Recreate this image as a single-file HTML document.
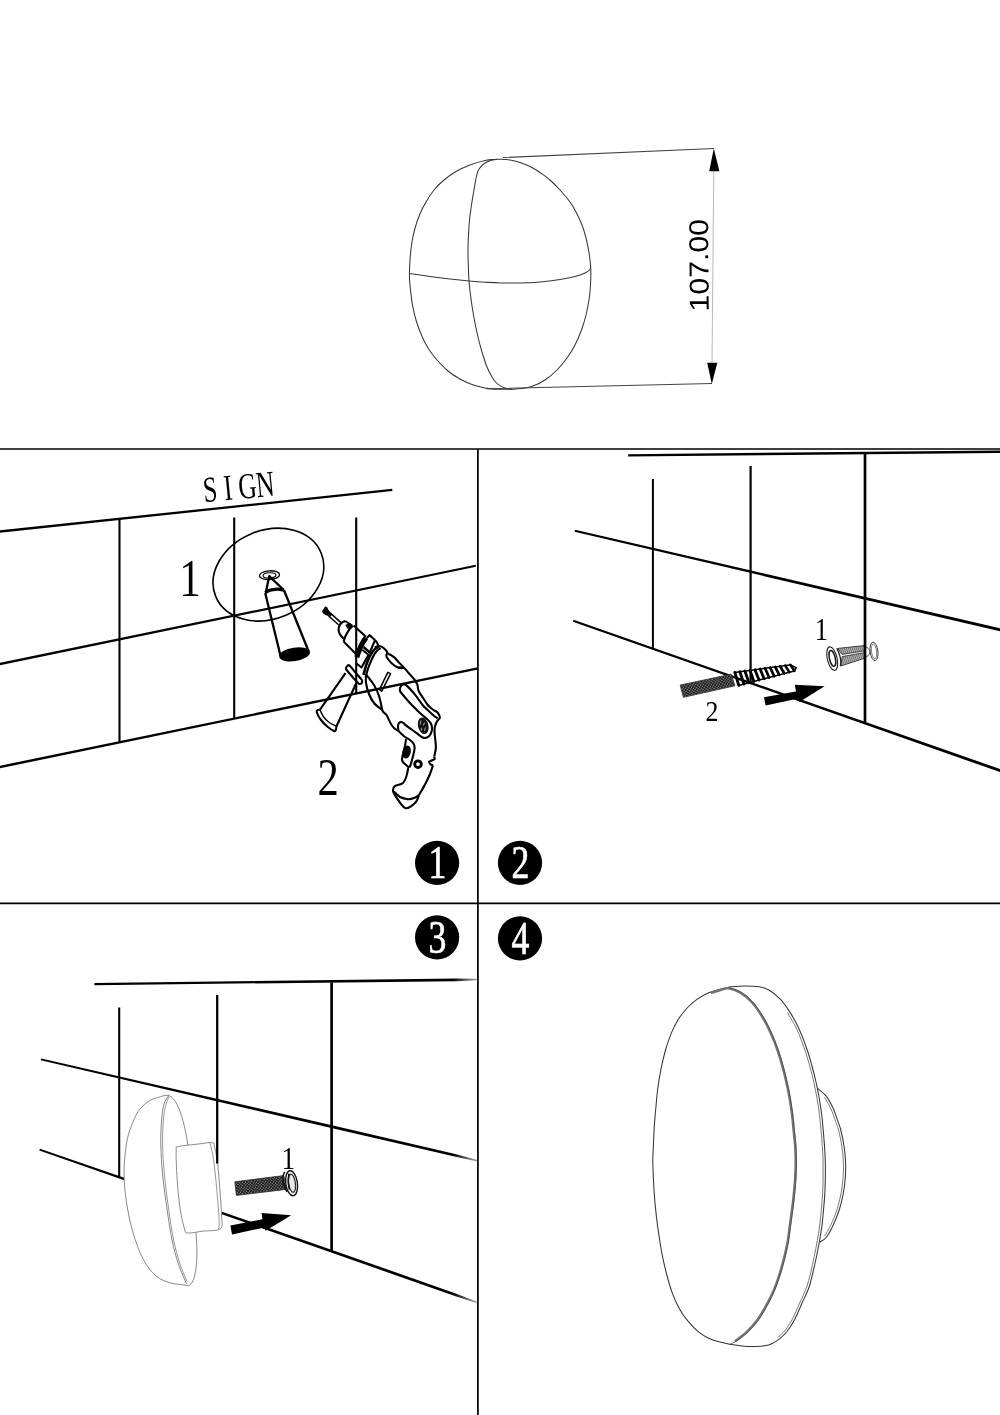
<!DOCTYPE html>
<html lang="en">
<head>
<meta charset="utf-8">
<title>Installation instructions</title>
<style>
html,body{margin:0;padding:0;background:#fff;}
body{width:1000px;height:1415px;overflow:hidden;font-family:"Liberation Sans",sans-serif;}
svg{display:block;will-change:transform;}
.k{fill:none;stroke:#000;stroke-linecap:butt;stroke-linejoin:round;}
.s{font-family:"Liberation Serif",serif;fill:#000;}
.a{font-family:"Liberation Sans",sans-serif;fill:#000;}
</style>
</head>
<body>
<svg width="1000" height="1415" viewBox="0 0 1000 1415">
<rect width="1000" height="1415" fill="#fff"/>
<g id="dimension" class="k" stroke-width="1.05" style="stroke:#363636">
<path d="M500.0 159.3C502.5 159.4 506.7 159.5 510.0 160.0C513.3 160.5 516.7 161.4 520.0 162.5C523.3 163.6 526.7 164.8 530.0 166.5C533.3 168.2 536.7 170.2 540.0 172.5C543.3 174.8 546.7 177.1 550.0 180.0C553.3 182.9 556.7 186.3 560.0 190.0C563.3 193.7 567.3 198.3 570.0 202.0C572.7 205.7 574.0 208.2 576.0 212.0C578.0 215.8 580.3 220.7 582.0 225.0C583.7 229.3 584.9 233.8 586.0 238.0C587.1 242.2 587.8 246.3 588.5 250.0C589.2 253.7 589.6 256.7 590.0 260.0C590.4 263.3 590.7 265.8 590.8 270.0C590.9 274.2 590.8 280.0 590.5 285.0C590.2 290.0 589.8 295.0 589.0 300.0C588.2 305.0 587.2 310.0 586.0 315.0C584.8 320.0 583.3 325.0 581.5 330.0C579.7 335.0 577.4 340.3 575.0 345.0C572.6 349.7 570.0 353.8 567.0 358.0C564.0 362.2 560.7 366.3 557.0 370.0C553.3 373.7 549.0 377.3 545.0 380.0C541.0 382.7 536.8 384.6 533.0 386.0C529.2 387.4 525.5 388.1 522.0 388.6C518.5 389.1 515.7 389.1 512.0 389.2C508.3 389.3 502.8 389.3 500.0 389.3C497.2 389.3 497.5 389.4 495.0 389.2C492.5 389.0 488.8 388.8 485.0 388.0C481.2 387.2 476.2 386.0 472.0 384.5C467.8 383.0 464.0 381.2 460.0 379.0C456.0 376.8 451.8 374.2 448.0 371.0C444.2 367.8 440.3 363.8 437.0 360.0C433.7 356.2 430.7 352.3 428.0 348.0C425.3 343.7 423.0 338.7 421.0 334.0C419.0 329.3 417.4 324.8 416.0 320.0C414.6 315.2 413.4 310.0 412.5 305.0C411.6 300.0 411.0 294.2 410.5 290.0C410.0 285.8 409.8 283.3 409.6 280.0C409.4 276.7 409.4 273.3 409.5 270.0C409.6 266.7 409.7 264.2 410.0 260.0C410.3 255.8 410.8 250.0 411.5 245.0C412.2 240.0 413.2 235.0 414.5 230.0C415.8 225.0 417.6 219.7 419.5 215.0C421.4 210.3 423.6 206.2 426.0 202.0C428.4 197.8 431.0 193.7 434.0 190.0C437.0 186.3 440.3 183.1 444.0 180.0C447.7 176.9 451.7 174.0 456.0 171.5C460.3 169.0 465.2 166.8 470.0 165.0C474.8 163.2 480.8 161.4 485.0 160.5C489.2 159.6 492.5 159.7 495.0 159.5C497.5 159.3 497.5 159.2 500.0 159.3Z"/>
<path d="M497.0 159.4C496.2 159.5 494.0 159.3 492.0 159.9C490.0 160.5 487.2 161.5 485.0 163.0C482.8 164.5 480.4 166.8 479.0 169.0C477.6 171.2 477.3 172.5 476.5 176.0C475.7 179.5 474.8 185.2 474.0 190.0C473.2 194.8 472.2 200.0 471.5 205.0C470.8 210.0 470.0 215.0 469.5 220.0C469.0 225.0 468.8 230.0 468.5 235.0C468.2 240.0 468.0 245.0 468.0 250.0C468.0 255.0 468.1 259.8 468.3 265.0C468.5 270.2 468.6 276.0 469.0 281.0C469.4 286.0 469.8 289.3 470.5 295.0C471.2 300.7 472.3 308.3 473.5 315.0C474.7 321.7 476.1 328.8 477.5 335.0C478.9 341.2 480.4 346.7 482.0 352.0C483.6 357.3 485.3 362.8 487.0 367.0C488.7 371.2 490.5 374.4 492.0 377.0C493.5 379.6 494.7 381.1 496.0 382.5C497.3 383.9 498.5 384.7 500.0 385.6C501.5 386.5 503.0 387.4 505.0 388.0C507.0 388.6 510.8 389.0 512.0 389.2"/>
<path d="M409.5 273.5C412.9 274.0 423.2 275.6 430.0 276.5C436.8 277.4 443.5 278.2 450.0 279.0C456.5 279.8 463.2 280.5 469.0 281.0C474.8 281.5 479.8 281.9 485.0 282.2C490.2 282.5 494.2 282.8 500.0 282.9C505.8 283.0 513.3 283.1 520.0 283.0C526.7 282.9 533.3 282.6 540.0 282.0C546.7 281.4 554.2 280.4 560.0 279.5C565.8 278.6 570.8 277.6 575.0 276.5C579.2 275.4 582.6 274.1 585.0 273.0C587.4 271.9 588.6 270.9 589.5 270.0C590.4 269.1 590.4 267.9 590.6 267.5"/>
<path d="M503 157.6L714 148.5M486 388.7L712 383.6" style="stroke:#444"/>
<path d="M713.8 170L712 364" style="stroke:#999" stroke-width="0.7"/>
</g>
<path d="M713.8 148.6L709.2 171.2L719.4 171.2Z" fill="#000"/>
<path d="M711.8 384L707.2 362.8L717.3 362.8Z" fill="#000"/>
<text class="a" font-size="27.4" transform="translate(708.8 311.4) rotate(-90.5) scale(1.105 1)" x="0" y="0">107.00</text>
<g id="frame" class="k" stroke-width="1.7">
<path d="M0 449H1000M0 903.4H1000M477.9 449V1415"/>
</g>
<circle cx="437.1" cy="862.9" r="22.1" fill="#000"/>
<text class="s" style="fill:#fff;stroke:#fff;stroke-width:0.7px" font-size="46.4" text-anchor="middle" transform="translate(437.4 878.1) scale(0.77 1)" x="0" y="0">1</text>
<circle cx="520.0" cy="862.9" r="22.1" fill="#000"/>
<text class="s" style="fill:#fff;stroke:#fff;stroke-width:0.7px" font-size="46.4" text-anchor="middle" transform="translate(520.3 878.1) scale(0.77 1)" x="0" y="0">2</text>
<circle cx="437.1" cy="937.3" r="22.1" fill="#000"/>
<text class="s" style="fill:#fff;stroke:#fff;stroke-width:0.7px" font-size="46.4" text-anchor="middle" transform="translate(437.4 952.5) scale(0.77 1)" x="0" y="0">3</text>
<circle cx="520.0" cy="938.4" r="22.1" fill="#000"/>
<text class="s" style="fill:#fff;stroke:#fff;stroke-width:0.7px" font-size="46.4" text-anchor="middle" transform="translate(520.3 953.6) scale(0.77 1)" x="0" y="0">4</text>
<g id="step1" class="k" stroke-width="2.4">
<path d="M-0.87 532.84L392.41 490.94L392.19 488.86L-1.13 530.36Z" fill="#000" stroke="none"/>
<path d="M-0.75 665.52L476.01 566.83L475.59 564.77L-1.25 663.08Z" fill="#000" stroke="none"/>
<path d="M-0.75 768.42L478.22 669.38L477.78 667.22L-1.25 765.98Z" fill="#000" stroke="none"/>
<path d="M119.5 519V742.6M234.2 517.5V718.8M356.2 517.5V693.8" stroke-width="2.1"/>
<ellipse cx="268.4" cy="574.6" rx="57" ry="44.3" transform="rotate(-22.4 268.4 574.6)" stroke-width="1.6"/>
</g>
<text class="s" font-size="36.6" transform="translate(202 502.6) rotate(-5.6) scale(0.69 1)" x="3.4 33.4 54.6 80.4" y="0">SIGN</text>
<text class="s" font-size="53.2" transform="translate(179.3 596.3) scale(0.81 1)" x="0" y="0">1</text>
<text class="s" font-size="52" transform="translate(317.6 795.4) scale(0.82 1)" x="0" y="0">2</text>
<g id="marker" class="k" stroke-width="2.3">
<ellipse cx="269.5" cy="575.2" rx="10" ry="4.4" transform="rotate(-3 269.5 575.2)" stroke-width="1.3"/>
<ellipse cx="269.5" cy="575.4" rx="6.4" ry="2.6" transform="rotate(-3 269.5 575.4)" stroke-width="1.1"/>
<path d="M269.5 574.8L268.0 578.5L272.5 579.0Z" fill="#000" stroke="none"/>
<path d="M265.8 592.5L269.2 576.2L283.8 590.0"/>
<path d="M265.2 592.8C265.8 592.4 267.4 591.1 269.0 590.5C270.6 589.9 273.2 589.5 275.0 589.3C276.8 589.1 278.5 589.1 280.0 589.3C281.5 589.4 283.3 590.1 284.0 590.2" stroke-width="3.2"/>
<path d="M265.2 593.0L280.5 655.8"/>
<path d="M284.0 590.2L308.6 651.2"/>
<ellipse cx="294.6" cy="654.3" rx="14.4" ry="5.6" transform="rotate(-9 294.6 654.3)" fill="#000"/>
</g>
<g id="drill" class="k" stroke-width="2.1" stroke-linecap="round">
<path d="M322.0 611.2L325.2 606.2L327.4 607.6L329.2 612.0L326.4 615.6L323.2 613.6Z" fill="#000" stroke="none"/>
<path d="M324.8 610.2L339.9 623.8" stroke-width="4.8" stroke-linecap="butt"/>
<path d="M331.0 615.8L339.6 623.6" stroke-width="1.7" style="stroke:#fff" stroke-linecap="butt"/>
<path d="M345.2 621.0C344.6 621.3 342.4 621.9 341.4 623.0C340.3 624.1 339.2 626.1 338.8 627.6C338.4 629.1 338.6 630.7 339.0 632.0C339.3 633.3 340.0 634.5 340.8 635.6C341.6 636.7 343.1 638.1 343.6 638.6"/>
<path d="M345.2 621.0L352.4 625.8"/>
<path d="M352.4 625.8C351.7 626.6 349.6 629.0 348.4 630.8C347.2 632.6 346.0 635.0 345.2 636.8C344.4 638.6 343.9 640.8 343.6 641.6"/>
<path d="M346.6 625.4L350.0 624.2L351.6 627.0L348.6 628.5Z" fill="#000"/>
<path d="M353.6 625.4L366.0 636.8"/>
<path d="M343.6 641.6L357.2 655.2"/>
<path d="M366.0 637.8C365.5 638.5 364.0 640.4 363.1 642.0C362.2 643.6 361.2 645.6 360.4 647.5C359.6 649.4 358.7 651.6 358.1 653.2C357.5 654.9 357.0 656.6 356.8 657.2" stroke-width="5.2" stroke-linecap="butt"/>
<path d="M366.8 638.1L369.5 635.1L375.0 640.0"/>
<path d="M375.0 640.0C375.4 640.5 376.7 641.9 377.2 643.0C377.8 644.1 378.3 645.9 378.5 646.5"/>
<path d="M375.0 640.2L370.0 652.0"/>
<path d="M363.5 647.0L370.5 653.2" stroke-width="2.4"/>
<path d="M362.5 650.0L368.5 654.8L361.5 667.5L356.5 663.5"/>
<path d="M378.5 646.6C377.7 647.2 375.0 648.8 373.5 650.5C372.0 652.2 370.7 654.6 369.5 657.0C368.3 659.4 367.2 662.0 366.2 665.0C365.2 668.0 364.0 673.3 363.5 675.0" stroke-width="2.6"/>
<path d="M380.5 648.0C379.7 648.8 377.0 650.5 375.5 652.5C374.0 654.5 372.7 657.4 371.5 660.0C370.3 662.6 369.1 665.5 368.2 668.0C367.4 670.5 366.6 673.8 366.2 675.0"/>
<path d="M347.2 666.2C347.8 665.6 348.2 664.5 349.5 665.5C350.8 666.5 353.0 669.7 355.0 672.0C357.0 674.3 360.3 677.8 361.5 679.5C362.7 681.2 362.3 681.8 362.0 682.5C361.7 683.2 360.5 684.1 359.7 684.0C358.9 683.9 358.6 683.7 357.0 682.0C355.4 680.3 351.8 676.2 350.0 674.0C348.2 671.8 346.5 670.3 346.0 669.0C345.5 667.7 346.6 666.8 347.2 666.2Z"/>
<path d="M345.5 673.2L320.0 709.7"/>
<path d="M356.2 683.2L336.5 726.2"/>
<path d="M320.0 709.7C319.6 709.8 318.3 709.6 317.8 710.0C317.3 710.4 316.3 710.5 316.8 712.2C317.3 713.9 319.2 717.6 321.0 720.0C322.8 722.4 325.3 725.0 327.5 726.8C329.7 728.6 332.6 730.5 334.0 731.0C335.4 731.5 335.4 730.8 335.8 730.0C336.2 729.2 336.4 726.8 336.5 726.2"/>
<path d="M320.0 710.0C320.7 711.2 322.3 715.3 324.0 717.5C325.7 719.7 327.9 721.5 330.0 723.0C332.1 724.5 335.4 725.7 336.5 726.2" stroke-width="1.4"/>
<path d="M366.0 674.5C366.0 675.9 365.5 679.8 366.0 683.0C366.5 686.2 367.7 690.7 369.0 694.0C370.3 697.3 371.8 700.3 374.0 703.0C376.2 705.7 380.8 708.8 382.2 710.0"/>
<path d="M366.0 674.5C367.3 676.2 371.8 681.4 374.0 685.0C376.2 688.6 377.6 691.8 379.0 696.0C380.4 700.2 381.7 707.7 382.2 710.0"/>
<path d="M387.8 672.4L390.6 673.6L381.8 691.2L379.4 689.6Z" stroke-width="1.5"/>
<path d="M374.8 647.6C375.3 647.3 376.8 646.1 378.0 646.0C379.2 645.9 380.7 646.1 382.0 646.8C383.3 647.5 385.0 649.2 386.0 650.4C387.0 651.6 387.7 653.4 388.0 654.0"/>
<path d="M388.0 653.8C389.3 654.2 392.2 655.8 394.0 657.2C395.8 658.6 397.2 660.7 398.8 662.4C400.4 664.1 403.7 666.7 403.6 667.6C403.5 668.5 400.0 668.3 398.0 667.6C396.0 666.9 393.5 664.9 391.6 663.2C389.7 661.5 387.7 658.6 386.8 657.2C385.9 655.8 386.2 655.4 386.4 654.8C386.6 654.2 386.7 653.4 388.0 653.8Z"/>
<path d="M398.0 667.6C398.9 667.6 401.9 666.7 403.6 667.6C405.3 668.5 406.5 670.7 408.4 672.8C410.3 674.9 413.3 678.0 414.8 680.0C416.3 682.0 416.7 682.9 417.4 684.8C418.0 686.7 417.6 688.7 418.8 691.2C420.0 693.7 422.9 697.7 424.4 700.0C425.9 702.3 426.8 703.7 427.8 705.0C428.8 706.3 429.6 706.9 430.6 707.8C431.6 708.7 432.7 709.5 433.8 710.2C434.9 710.9 436.1 711.1 437.0 711.8C437.9 712.5 438.5 713.6 439.0 714.6C439.5 715.6 439.9 716.9 439.8 717.8C439.7 718.7 438.8 718.9 438.2 719.8C437.6 720.7 436.8 721.7 436.2 723.0C435.6 724.3 435.1 725.7 434.8 727.4C434.5 729.1 434.5 731.1 434.6 733.0C434.7 734.9 435.0 737.0 435.2 739.0C435.4 741.0 435.7 743.2 435.8 745.0C435.9 746.8 435.9 748.1 435.6 750.0C435.3 751.9 434.4 755.4 434.2 756.5"/>
<path d="M400.2 687.0C400.6 686.6 401.8 684.9 402.8 684.6C403.8 684.3 404.4 683.8 406.4 685.4C408.4 687.0 412.1 691.1 414.8 694.4C417.5 697.7 420.5 702.4 422.6 705.0C424.7 707.6 425.7 708.1 427.4 709.8C429.1 711.5 431.3 713.6 433.0 715.0C434.7 716.4 436.8 717.8 437.6 718.4"/>
<path d="M400.2 687.0C400.2 687.7 399.5 689.7 400.0 691.0C400.5 692.3 401.7 693.4 403.0 695.0C404.3 696.6 406.1 698.7 407.6 700.4C409.1 702.1 410.2 703.4 411.8 705.0C413.4 706.6 415.3 708.5 417.0 710.2C418.7 711.9 420.5 713.5 422.2 715.0C423.9 716.5 426.0 718.1 427.4 719.4C428.8 720.7 429.8 721.7 430.6 723.0C431.4 724.3 431.9 725.9 432.0 727.4C432.1 728.9 431.9 730.7 431.4 732.2C430.9 733.7 430.1 735.2 429.0 736.2C427.9 737.2 426.2 737.9 425.0 738.0C423.8 738.1 423.1 737.8 421.8 737.0C420.5 736.2 418.8 734.7 417.0 733.4C415.2 732.1 413.0 730.5 411.0 729.0C409.0 727.5 406.2 725.6 405.0 724.6C403.8 723.6 404.2 723.4 403.5 723.0C402.8 722.6 401.8 722.0 401.0 722.0C400.2 722.0 399.5 722.3 399.0 723.0C398.5 723.7 398.1 724.7 398.0 726.0C397.9 727.3 398.4 730.2 398.5 731.0"/>
<ellipse cx="423.2" cy="725.8" rx="5.2" ry="8.4" transform="rotate(-14 423.2 725.8)" fill="#111" stroke="none"/>
<path d="M421 720.5l-1 4M424.6 722.5l-1.4 3M421.8 727.6l-0.6 3M425.6 727.4l-1.2 3.4" stroke-width="1.1" style="stroke:#999"/>
<path d="M382.2 710.0C382.4 710.4 382.8 711.4 383.5 712.2C384.2 713.0 385.7 713.9 386.5 715.0C387.3 716.1 387.8 717.5 388.5 719.0C389.2 720.5 390.0 722.4 391.0 724.0C392.0 725.6 393.2 727.3 394.5 728.5C395.8 729.7 397.4 730.2 398.5 731.0C399.6 731.8 399.9 732.5 401.0 733.5C402.1 734.5 403.5 735.9 405.0 737.0C406.5 738.1 408.6 738.9 410.0 740.0C411.4 741.1 412.7 742.2 413.5 743.5C414.3 744.8 414.5 746.1 414.6 747.5C414.7 748.9 414.4 749.9 414.0 752.0C413.6 754.1 412.6 757.8 412.0 760.0C411.4 762.2 411.0 763.7 410.5 765.0C410.0 766.3 409.4 767.2 409.2 767.6"/>
<path d="M406.0 739.2C405.8 740.7 405.3 744.6 404.6 748.0C403.9 751.4 401.9 756.9 402.0 759.6C402.1 762.3 404.2 763.1 405.4 764.4C406.6 765.7 408.6 767.1 409.2 767.6"/>
<ellipse cx="406.6" cy="752" rx="3.1" ry="5.6" transform="rotate(12 406.6 752)" fill="#000"/>
<circle cx="418" cy="764.2" r="3.3" stroke-width="2.9"/>
<path d="M434.2 756.5L434.7 759.0L429.0 761.7L430.5 764.5L433.0 765.2"/>
<path d="M433.0 765.2C432.5 766.7 431.3 770.8 430.0 774.0C428.7 777.2 426.8 781.0 425.0 784.5C423.2 788.0 420.0 793.2 419.0 795.0"/>
<path d="M408.2 768.0C407.9 769.3 407.4 773.5 406.5 776.0C405.6 778.5 404.9 781.3 403.0 783.0C401.1 784.7 396.6 785.0 395.0 786.0C393.4 787.0 393.4 787.9 393.2 789.0C392.9 790.1 392.6 790.6 393.5 792.5C394.4 794.4 396.4 797.9 398.5 800.5C400.6 803.1 403.0 807.9 405.8 808.2C408.6 808.5 413.3 804.7 415.5 802.5C417.7 800.3 418.4 796.2 419.0 795.0"/>
<path d="M393.8 791.5C394.8 792.4 397.6 795.7 400.0 797.0C402.4 798.3 405.7 799.0 408.0 799.2C410.3 799.4 412.2 798.7 414.0 798.0C415.8 797.3 418.2 795.5 419.0 795.0"/>
</g>
<g id="step2" class="k" stroke-width="2.3">
<path d="M628.21 456.45L1001.01 452.95L1000.99 450.45L628.19 454.15Z" fill="#000" stroke="none"/>
<path d="M574.55 531.87L1000.66 631.36L1001.34 628.44L575.05 529.73Z" fill="#000" stroke="none"/>
<path d="M572.84 621.84L1000.52 772.27L1001.48 769.53L573.56 619.76Z" fill="#000" stroke="none"/>
<path d="M652.9 479V648.6" stroke-width="2"/>
<path d="M750.6 466V683" stroke-width="2.2"/>
</g>
<text class="s" font-size="30.4" transform="translate(705.6 721) scale(0.85 1)" x="0" y="0">2</text>
<text class="s" font-size="31" transform="translate(814.8 640.4) scale(0.85 1)" x="0" y="0">1</text>
<path d="M764 697.3L796 691.4L794.8 684.8L824.6 686.2L799.4 701.9L798.4 698.6L765.6 705.4Z" fill="#000"/>
<defs><pattern id="knurl2" width="2.2" height="2.2" patternUnits="userSpaceOnUse" patternTransform="rotate(33)"><rect width="2.2" height="2.2" fill="#7c7c7c"/><path d="M0 0.5H2.2M0.5 0V2.2" stroke="#222" stroke-width="0.95"/></pattern></defs>
<g id="lagscrew">
<path d="M680.2 685.1L731.2 674.2L734.9 685.8L683.4 697.3Z" fill="url(#knurl2)" stroke="#3a3a3a" stroke-width="0.9" stroke-linejoin="round"/>
<path d="M734.8 672.4L738.8 685.4" fill="none" stroke="#000" stroke-width="2.9" stroke-linecap="round"/>
<path d="M739.9 671.7L743.9 684.1" fill="none" stroke="#000" stroke-width="2.9" stroke-linecap="round"/>
<path d="M744.9 671.0L748.9 682.8" fill="none" stroke="#000" stroke-width="2.8" stroke-linecap="round"/>
<path d="M750.0 670.4L754.0 681.4" fill="none" stroke="#000" stroke-width="2.8" stroke-linecap="round"/>
<path d="M755.0 669.7L759.0 680.1" fill="none" stroke="#000" stroke-width="2.8" stroke-linecap="round"/>
<path d="M760.1 669.0L764.1 678.8" fill="none" stroke="#000" stroke-width="2.8" stroke-linecap="round"/>
<path d="M765.1 668.3L769.1 677.5" fill="none" stroke="#000" stroke-width="2.7" stroke-linecap="round"/>
<path d="M770.2 667.6L774.2 676.2" fill="none" stroke="#000" stroke-width="2.7" stroke-linecap="round"/>
<path d="M775.2 666.9L779.2 674.9" fill="none" stroke="#000" stroke-width="2.7" stroke-linecap="round"/>
<path d="M780.3 666.3L784.3 673.5" fill="none" stroke="#000" stroke-width="2.7" stroke-linecap="round"/>
<path d="M785.3 665.6L789.3 672.2" fill="none" stroke="#000" stroke-width="2.6" stroke-linecap="round"/>
<path d="M790.4 664.9L794.4 670.9" fill="none" stroke="#000" stroke-width="2.6" stroke-linecap="round"/>
<path d="M734.8 672.4L739.9 671.7L744.9 671.0L750.0 670.4L755.0 669.7L760.1 669.0L765.1 668.3L770.2 667.6L775.2 666.9L780.3 666.3L785.3 665.6L790.4 664.9L796.2 667.6L794.4 670.9L789.3 672.2L784.3 673.5L779.2 674.9L774.2 676.2L769.1 677.5L764.1 678.8L759.0 680.1L754.0 681.4L748.9 682.8L743.9 684.1L738.8 685.4Z" fill="none" stroke="#000" stroke-width="1.5" stroke-linejoin="round"/>
</g>
<defs><pattern id="rib" width="1.9" height="4" patternUnits="userSpaceOnUse" patternTransform="rotate(-18)"><rect width="1.9" height="4" fill="#c9c9c9"/><path d="M0.6 0V4" stroke="#2a2a2a" stroke-width="0.65"/></pattern></defs>
<g id="wallplug" fill="none" stroke="#222" stroke-width="1" stroke-linejoin="round">
<path d="M864.4 646.4C864.9 646.6 866.7 647.0 867.6 647.8C868.5 648.6 869.9 650.1 870.0 651.4C870.1 652.7 868.9 654.7 868.0 655.8C867.1 656.9 865.0 657.5 864.4 657.8" fill="#fff" stroke="#333" stroke-width="0.9"/>
<path d="M837.6 648.4L864.4 645.6L864.7 650.8L842.0 654.4Z" fill="url(#rib)" stroke="#333" stroke-width="0.9"/>
<path d="M842.2 656.6L864.7 652.6L864.6 658.2L840.8 666.0Z" fill="url(#rib)" stroke="#333" stroke-width="0.9"/>
<path d="M836.8 648.2C837.3 649.3 838.9 652.8 839.6 655.0C840.3 657.2 840.7 659.5 840.8 661.4C840.9 663.3 840.5 665.4 840.4 666.2" stroke-width="1.3"/>
<ellipse cx="832.2" cy="658.6" rx="4.9" ry="12" transform="rotate(-13 832.2 658.6)" fill="#fff" stroke="#222" stroke-width="1.1"/>
<ellipse cx="832.4" cy="658.4" rx="2.9" ry="8" transform="rotate(-13 832.4 658.4)" fill="#fff" stroke="#1a1a1a" stroke-width="1.5"/>
<ellipse cx="874" cy="651.4" rx="3.9" ry="9.3" transform="rotate(-7 874 651.4)" stroke="#2e2e2e" stroke-width="0.9"/>
<ellipse cx="874" cy="651.4" rx="2.5" ry="7.4" transform="rotate(-7 874 651.4)" stroke="#666" stroke-width="0.8"/>
</g>
<path class="k" d="M865 453V723.4" stroke-width="2.7"/>
<g id="step3" class="k" stroke-width="2.3">
<defs><linearGradient id="fade" gradientUnits="userSpaceOnUse" x1="0" y1="0" x2="479" y2="0"><stop offset="0" stop-color="#000"/><stop offset="0.945" stop-color="#000"/><stop offset="1" stop-color="#000" stop-opacity="0.3"/></linearGradient></defs>
<path d="M94.41 985.15L456.02 981.15L477.51 980.35L477.49 978.85L455.98 978.55L94.39 983.05Z" fill="url(#fade)" stroke="none"/>
<path d="M40.77 1060.37L331.28 1127.96L455.71 1156.87L477.34 1161.38L477.66 1160.02L456.29 1154.33L331.92 1125.24L41.23 1058.43Z" fill="url(#fade)" stroke="none"/>
<path d="M39.27 1150.54L124.24 1180.14L124.96 1178.06L39.93 1148.66Z" fill="#000" stroke="none"/>
<path d="M221.09 1214.08L331.14 1252.62L455.57 1296.13L477.27 1303.26L477.73 1301.94L456.43 1293.67L332.06 1249.98L221.91 1211.72Z" fill="url(#fade)" stroke="none"/>
<path d="M119.2 1007.5V1177.6" stroke-width="2.1"/>
<path d="M331.6 982.5V1251.6" stroke-width="2.7"/>
</g>
<g id="lamp3" fill="#fff" stroke="#6a6a6a" stroke-width="0.8" stroke-linejoin="round">
<path d="M168.8 1095.5C165.6 1094.5 161.1 1096.6 157.6 1097.6C154.1 1098.6 151.2 1099.3 148.0 1101.6C144.8 1103.9 141.2 1107.1 138.4 1111.2C135.6 1115.3 133.2 1120.9 131.2 1126.4C129.2 1131.9 127.6 1136.3 126.4 1144.0C125.2 1151.7 124.0 1163.2 124.0 1172.8C124.0 1182.4 124.9 1191.7 126.4 1201.6C127.9 1211.5 130.0 1222.4 132.8 1232.0C135.6 1241.6 139.3 1251.9 143.2 1259.2C147.1 1266.5 151.5 1272.1 156.0 1276.0C160.5 1279.9 165.9 1281.4 170.4 1282.9C174.9 1284.3 180.0 1284.4 183.2 1284.8C186.4 1285.2 187.7 1286.5 189.6 1285.1C191.5 1283.8 193.2 1281.1 194.4 1276.8C195.6 1272.5 196.5 1265.3 196.8 1259.2C197.1 1253.1 196.9 1248.5 196.5 1240.0C196.1 1231.5 195.3 1218.7 194.4 1208.0C193.5 1197.3 192.3 1186.7 191.2 1176.0C190.1 1165.3 189.0 1153.1 187.7 1144.0C186.3 1134.9 185.0 1128.3 183.2 1121.6C181.4 1114.9 179.2 1108.3 176.8 1104.0C174.4 1099.7 172.0 1096.6 168.8 1095.5Z"/>
<path d="M168.8 1095.5C168.0 1096.9 165.2 1099.9 164.0 1104.0C162.8 1108.1 162.1 1113.3 161.6 1120.0C161.1 1126.7 160.6 1134.7 160.8 1144.0C161.0 1153.3 161.7 1165.3 162.7 1176.0C163.7 1186.7 165.3 1197.3 166.9 1208.0C168.4 1218.7 170.1 1230.7 172.0 1240.0C173.9 1249.3 176.0 1256.7 178.4 1264.0C180.8 1271.3 185.1 1280.3 186.4 1283.5" fill="none"/>
<path d="M169.1 1096.5C168.5 1098.0 166.6 1101.7 165.6 1105.6C164.6 1109.5 163.9 1113.6 163.4 1120.0C162.9 1126.4 162.4 1134.7 162.6 1144.0C162.7 1153.3 163.5 1165.3 164.5 1176.0C165.5 1186.7 167.0 1197.3 168.5 1208.0C170.0 1218.7 171.7 1230.8 173.6 1240.0C175.5 1249.2 177.4 1256.2 179.7 1263.2C181.9 1270.2 185.9 1278.8 187.2 1281.9" fill="none" stroke-width="0.7"/>
<path d="M176.2 1150.4C176.4 1145.0 175.1 1147.6 178.4 1146.6C181.7 1145.5 190.4 1145.0 196.0 1144.3C201.6 1143.7 208.9 1142.2 212.0 1142.7C215.1 1143.2 213.6 1143.8 214.6 1147.2C215.5 1150.6 216.7 1155.7 217.6 1163.2C218.5 1170.7 219.3 1183.2 220.0 1192.0C220.7 1200.8 221.5 1209.9 221.6 1216.0C221.7 1222.1 223.5 1226.3 220.3 1228.8C217.1 1231.3 207.8 1230.5 202.4 1231.2C197.0 1231.9 190.7 1233.4 187.7 1233.0C184.7 1232.6 185.8 1233.0 184.5 1228.8C183.2 1224.6 181.2 1216.3 180.0 1208.0C178.8 1199.7 177.8 1188.8 177.1 1179.2C176.5 1169.6 175.9 1155.8 176.2 1150.4Z"/>
<path d="M210.1 1143.2C210.5 1145.2 211.9 1149.7 212.8 1155.2C213.7 1160.7 214.7 1168.3 215.5 1176.0C216.3 1183.7 217.1 1194.1 217.8 1201.6C218.4 1209.1 219.0 1216.2 219.2 1220.8C219.4 1225.4 218.8 1228.0 218.7 1229.4" fill="none" stroke-width="0.7"/>
</g>
<defs><pattern id="knurl" width="2.2" height="2.2" patternUnits="userSpaceOnUse" patternTransform="rotate(38)"><rect width="2.2" height="2.2" fill="#858585"/><path d="M0 0.5H2.2M0.5 0V2.2" stroke="#1c1c1c" stroke-width="1"/></pattern></defs>
<g id="bolt">
<path d="M234.8 1181.8L283.8 1175.6L286.0 1189.4L236.4 1195.4Z" fill="url(#knurl)" stroke="#3a3a3a" stroke-width="0.9" stroke-linejoin="round"/>
<ellipse cx="291.6" cy="1183.2" rx="5.8" ry="12.6" transform="rotate(-8 291.6 1183.2)" fill="#fff" stroke="#111" stroke-width="1.4"/>
<ellipse cx="292" cy="1183.2" rx="3.4" ry="9.2" transform="rotate(-8 292 1183.2)" fill="#e8e8e8" stroke="#222" stroke-width="1.2"/>
<path d="M284.6 1172.0C284.3 1172.8 283.1 1174.7 283.0 1176.8C282.9 1178.9 283.1 1182.3 283.8 1184.8C284.5 1187.3 286.5 1190.8 287.0 1192.0" fill="none" stroke="#111" stroke-width="1.5"/>
<path d="M289.0 1173.6C288.9 1174.9 288.1 1178.9 288.2 1181.6C288.3 1184.3 289.2 1188.3 289.4 1189.6" fill="none" stroke="#111" stroke-width="1.6"/>
</g>
<text class="s" font-size="31" transform="translate(281.5 1169) scale(0.88 1)" x="0" y="0">1</text>
<path d="M230.4 1225.6L262.4 1219.2L261.6 1213.1L291.2 1215.2L265.6 1230.7L264.6 1227.4L232 1234.4Z" fill="#000"/>
<path class="k" d="M217.2 995V1163.5" stroke-width="2.3"/>
<g id="step4" fill="none" stroke="#343434" stroke-width="1.05" stroke-linejoin="round" stroke-linecap="round">
<path d="M817.6 1088.4C819.1 1089.7 823.9 1093.2 826.4 1096.4C828.9 1099.6 830.9 1103.6 832.8 1107.6C834.7 1111.6 836.3 1116.7 837.6 1120.4C838.9 1124.1 839.7 1125.7 840.8 1130.0C841.9 1134.3 843.2 1140.7 844.0 1146.0C844.8 1151.3 845.4 1156.7 845.6 1162.0C845.8 1167.3 845.7 1172.7 845.3 1178.0C844.9 1183.3 844.2 1188.7 843.2 1194.0C842.2 1199.3 840.9 1204.7 839.2 1210.0C837.5 1215.3 834.9 1221.5 832.8 1226.0C830.7 1230.5 828.5 1234.5 826.4 1237.2C824.3 1239.9 821.1 1241.2 820.0 1242.0"/>
<path d="M824.7 1097.8C825.7 1099.6 829.0 1104.6 830.8 1108.5C832.6 1112.4 834.2 1117.5 835.5 1121.1C836.8 1124.8 837.6 1126.3 838.7 1130.5C839.7 1134.7 841.0 1141.1 841.8 1146.3C842.6 1151.6 843.2 1156.8 843.4 1162.1C843.6 1167.3 843.5 1172.6 843.1 1177.8C842.7 1183.1 842.0 1188.3 841.0 1193.6C840.0 1198.8 838.8 1204.1 837.1 1209.3C835.4 1214.6 832.9 1220.6 830.8 1225.1C828.7 1229.5 825.7 1234.0 824.7 1235.8" stroke-width="0.8" stroke="#555"/>
<path d="M728.8 987.0C731.5 986.8 739.7 986.0 744.8 986.0C749.9 986.0 755.2 986.1 759.2 986.8C763.2 987.5 765.3 988.0 768.8 990.0C772.3 992.0 776.5 995.2 780.0 998.8C783.5 1002.4 786.4 1006.5 789.6 1011.6C792.8 1016.7 796.3 1022.8 799.2 1029.2C802.1 1035.6 805.1 1043.9 807.2 1050.0C809.3 1056.1 810.5 1060.7 812.0 1066.0C813.5 1071.3 814.8 1076.7 816.0 1082.0C817.2 1087.3 818.3 1092.7 819.2 1098.0C820.1 1103.3 820.9 1108.7 821.6 1114.0C822.3 1119.3 822.7 1124.7 823.2 1130.0C823.7 1135.3 824.1 1140.7 824.5 1146.0C824.9 1151.3 825.2 1156.7 825.3 1162.0C825.4 1167.3 825.4 1172.7 825.3 1178.0C825.2 1183.3 825.1 1188.7 824.8 1194.0C824.5 1199.3 824.0 1204.7 823.5 1210.0C823.0 1215.3 822.6 1220.8 821.9 1226.0C821.2 1231.2 820.4 1235.8 819.5 1241.0C818.6 1246.2 817.5 1251.7 816.4 1257.0C815.3 1262.3 814.1 1267.7 812.8 1273.0C811.5 1278.3 810.3 1283.8 808.4 1289.0C806.5 1294.2 803.9 1298.8 801.6 1304.0C799.3 1309.2 796.8 1315.5 794.4 1320.0C792.0 1324.5 789.7 1328.0 787.2 1331.2C784.7 1334.4 781.6 1337.2 779.2 1339.2C776.8 1341.2 774.9 1342.1 772.8 1343.2C770.7 1344.3 769.1 1345.1 766.4 1345.6C763.7 1346.1 760.5 1346.3 756.8 1346.4C753.1 1346.5 748.5 1346.6 744.0 1346.2C739.5 1345.8 732.3 1344.5 730.0 1344.2"/>
<path d="M787.7 1012.8C789.3 1015.7 794.3 1023.8 797.2 1030.1C800.1 1036.4 803.0 1044.6 805.1 1050.7C807.2 1056.8 808.4 1061.3 809.9 1066.6C811.3 1071.9 812.7 1077.2 813.9 1082.5C815.0 1087.8 816.1 1093.1 817.0 1098.4C818.0 1103.7 818.8 1109.0 819.4 1114.3C820.1 1119.6 820.5 1124.9 821.0 1130.2C821.5 1135.5 822.0 1140.8 822.3 1146.1C822.7 1151.5 823.0 1156.8 823.1 1162.1C823.2 1167.4 823.2 1172.7 823.1 1178.0C823.0 1183.3 822.9 1188.6 822.6 1193.9C822.3 1199.2 821.8 1204.5 821.3 1209.8C820.8 1215.1 820.4 1220.6 819.7 1225.7C819.1 1230.9 818.2 1235.5 817.3 1240.6C816.4 1245.8 815.4 1251.2 814.2 1256.5C813.1 1261.9 812.0 1267.2 810.7 1272.5C809.3 1277.8 808.2 1283.1 806.3 1288.3C804.5 1293.4 801.9 1298.0 799.6 1303.1C797.3 1308.2 794.8 1314.5 792.5 1319.0C790.1 1323.4 787.9 1326.7 785.5 1329.8C783.0 1332.9 779.1 1336.2 777.8 1337.5" stroke-width="0.8" stroke="#555"/>
<path d="M728.8 987.5C727.1 987.8 722.2 988.6 718.9 989.5C715.5 990.4 712.3 991.1 708.7 992.7C705.1 994.3 700.9 996.6 697.3 999.1C693.7 1001.6 690.3 1004.6 687.1 1008.0C683.9 1011.4 680.9 1015.3 678.2 1019.5C675.6 1023.7 673.3 1028.3 671.2 1033.4C669.1 1038.5 667.2 1044.0 665.5 1050.0C663.8 1056.0 662.3 1062.7 661.0 1069.1C659.7 1075.5 658.6 1081.8 657.8 1088.2C656.9 1094.6 656.5 1101.0 655.9 1107.3C655.3 1113.6 654.7 1119.9 654.3 1126.3C653.9 1132.7 653.6 1139.8 653.4 1145.4C653.1 1151.0 652.8 1154.4 652.8 1160.0C652.8 1165.6 653.1 1172.7 653.4 1179.1C653.7 1185.5 654.1 1191.8 654.6 1198.2C655.1 1204.6 655.8 1210.9 656.5 1217.3C657.2 1223.7 658.1 1230.1 659.1 1236.4C660.1 1242.8 661.0 1249.1 662.3 1255.4C663.6 1261.8 665.0 1268.1 666.7 1274.5C668.4 1280.9 670.4 1287.9 672.5 1293.6C674.6 1299.3 676.9 1304.2 679.5 1308.9C682.1 1313.6 685.2 1317.8 688.4 1321.6C691.6 1325.4 695.1 1329.0 698.5 1331.8C701.9 1334.6 705.5 1336.6 708.7 1338.2C712.0 1339.8 714.5 1340.6 718.0 1341.6C721.5 1342.6 728.0 1343.8 730.0 1344.2"/>
<path d="M712.0 992.6C713.3 992.2 717.2 990.9 720.0 990.2C722.8 989.5 725.0 987.8 728.5 988.2C732.0 988.7 737.2 990.7 741.2 993.1C745.1 995.5 748.5 998.3 752.2 1002.5C755.9 1006.7 760.1 1013.1 763.3 1018.4C766.5 1023.7 768.9 1029.0 771.3 1034.3C773.7 1039.6 775.8 1045.0 777.6 1050.3C779.5 1055.6 781.0 1060.9 782.4 1066.2C783.9 1071.5 785.2 1076.9 786.4 1082.2C787.6 1087.5 788.7 1092.8 789.6 1098.1C790.5 1103.5 791.3 1108.8 792.0 1114.1C792.7 1119.4 793.1 1124.8 793.6 1130.1C794.1 1135.4 794.9 1140.7 795.2 1146.1C795.6 1151.4 795.7 1156.7 795.7 1162.0C795.7 1167.3 795.5 1172.6 795.2 1178.0C794.9 1183.3 794.4 1188.6 793.9 1193.9C793.4 1199.2 792.7 1204.6 792.0 1209.9C791.3 1215.2 790.5 1220.7 789.8 1225.9C789.1 1231.1 788.7 1235.7 787.8 1240.9C786.9 1246.0 785.7 1251.5 784.4 1256.8C783.1 1262.1 781.7 1267.4 780.0 1272.8C778.4 1278.1 776.6 1283.6 774.5 1288.7C772.3 1293.8 770.1 1298.5 767.3 1303.6C764.5 1308.8 761.2 1314.8 757.8 1319.5C754.3 1324.3 750.3 1328.7 746.6 1332.2C742.9 1335.8 737.4 1339.3 735.6 1340.7" stroke="#747474" stroke-width="2.5"/>
<path d="M728.8 987.5C730.9 988.3 737.6 990.0 741.6 992.4C745.6 994.8 749.1 997.7 752.8 1002.0C756.5 1006.3 760.8 1012.7 764.0 1018.0C767.2 1023.3 769.6 1028.7 772.0 1034.0C774.4 1039.3 776.5 1044.7 778.4 1050.0C780.3 1055.3 781.7 1060.7 783.2 1066.0C784.7 1071.3 786.0 1076.7 787.2 1082.0C788.4 1087.3 789.5 1092.7 790.4 1098.0C791.3 1103.3 792.1 1108.7 792.8 1114.0C793.5 1119.3 793.9 1124.7 794.4 1130.0C794.9 1135.3 795.6 1140.7 796.0 1146.0C796.4 1151.3 796.5 1156.7 796.5 1162.0C796.5 1167.3 796.3 1172.7 796.0 1178.0C795.7 1183.3 795.2 1188.7 794.7 1194.0C794.2 1199.3 793.5 1204.7 792.8 1210.0C792.1 1215.3 791.3 1220.8 790.6 1226.0C789.9 1231.2 789.5 1235.8 788.6 1241.0C787.7 1246.2 786.5 1251.7 785.2 1257.0C783.9 1262.3 782.5 1267.7 780.8 1273.0C779.1 1278.3 777.3 1283.8 775.2 1289.0C773.1 1294.2 770.8 1298.8 768.0 1304.0C765.2 1309.2 761.9 1315.2 758.4 1320.0C754.9 1324.8 750.9 1329.2 747.2 1332.8C743.5 1336.4 738.9 1339.5 736.0 1341.4C733.1 1343.3 731.0 1343.7 730.0 1344.2" stroke-width="0.7" stroke="#444"/>
</g>
</svg>
</body>
</html>
